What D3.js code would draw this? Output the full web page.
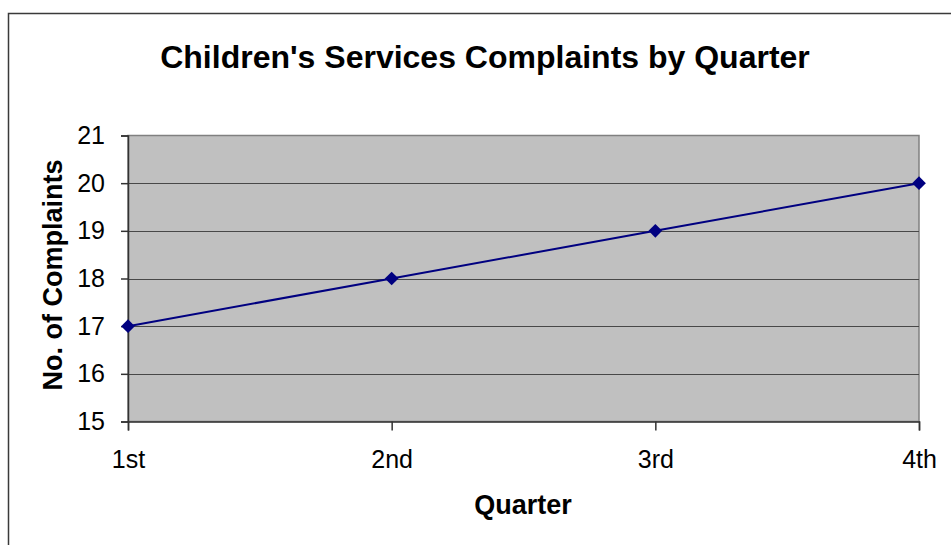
<!DOCTYPE html>
<html>
<head>
<meta charset="utf-8">
<script src="https://cdn.jsdelivr.net/npm/d3@7"></script>
<style>
  html, body { margin: 0; padding: 0; background: #fff; }
  svg { display: block; font-family: "Liberation Sans", Arial, sans-serif; }
</style>
</head>
<body>
<svg id="chart" width="951" height="545"></svg>
<script>
// Complaints per quarter
const quarters = ["1st", "2nd", "3rd", "4th"];
const complaints = [17, 18, 19, 20];
const yTicks = [15, 16, 17, 18, 19, 20, 21];

const W = 951, H = 545;
const plot = { left: 128, right: 919, top: 135.5, bottom: 421.5 };

const svg = d3.select("#chart");

// Chart frame
svg.append("rect")
  .attr("x", 8.5).attr("y", 13.5)
  .attr("width", W + 10).attr("height", H + 10)
  .attr("fill", "#fff").attr("stroke", "#3a3a3a").attr("stroke-width", 1.5);

const x = d3.scalePoint().domain(quarters).range([plot.left, plot.right]).padding(0);
const y = d3.scaleLinear().domain([15, 21]).range([plot.bottom, plot.top]);

// Plot area
svg.append("rect")
  .attr("x", plot.left).attr("y", plot.top)
  .attr("width", plot.right - plot.left).attr("height", plot.bottom - plot.top)
  .attr("fill", "#c0c0c0").attr("stroke", "#808080").attr("stroke-width", 1.5);

// Horizontal gridlines
svg.append("g")
  .selectAll("line")
  .data(yTicks.slice(1, -1))
  .join("line")
  .attr("x1", plot.left).attr("x2", plot.right)
  .attr("y1", d => Math.round(y(d)) + 0.5).attr("y2", d => Math.round(y(d)) + 0.5)
  .attr("stroke", "#484848").attr("stroke-width", 1);

// Y axis
const yAxis = svg.append("g")
  .attr("transform", `translate(${plot.left},0)`)
  .call(d3.axisLeft(y).tickValues(yTicks).tickFormat(d3.format("d")).tickSize(7).tickPadding(16));
yAxis.select(".domain").attr("stroke", "#333").attr("stroke-width", 1.5);
yAxis.selectAll(".tick line").attr("stroke", "#333").attr("stroke-width", 1.5);
yAxis.selectAll("text").attr("font-size", 25).attr("fill", "#000")
  .attr("font-family", "Liberation Sans, Arial, sans-serif");

// X axis
const xAxis = svg.append("g")
  .attr("transform", `translate(0,${plot.bottom})`)
  .call(d3.axisBottom(x).tickSize(9).tickPadding(20));
xAxis.select(".domain").attr("stroke", "#333").attr("stroke-width", 1.5);
xAxis.selectAll(".tick line").attr("stroke", "#333").attr("stroke-width", 1.5);
xAxis.selectAll("text").attr("font-size", 25).attr("fill", "#000")
  .attr("font-family", "Liberation Sans, Arial, sans-serif");

// Series line
const line = d3.line().x((d, i) => x(quarters[i])).y(d => y(d));
svg.append("path")
  .datum(complaints)
  .attr("d", line)
  .attr("fill", "none").attr("stroke", "#000080").attr("stroke-width", 2);

// Diamond markers
const diamond = d3.symbol().type(d3.symbolDiamond2).size(120);
svg.append("g")
  .selectAll("path")
  .data(complaints)
  .join("path")
  .attr("d", diamond)
  .attr("transform", (d, i) => `translate(${x(quarters[i])},${y(d)})`)
  .attr("fill", "#000080");

// Titles
svg.append("text")
  .attr("x", 485).attr("y", 68)
  .attr("text-anchor", "middle")
  .attr("font-size", 32).attr("font-weight", "bold")
  .text("Children's Services Complaints by Quarter");

svg.append("text")
  .attr("x", 523).attr("y", 514)
  .attr("text-anchor", "middle")
  .attr("font-size", 27).attr("font-weight", "bold")
  .text("Quarter");

svg.append("text")
  .attr("transform", "translate(62,275) rotate(-90)")
  .attr("text-anchor", "middle")
  .attr("font-size", 27).attr("font-weight", "bold")
  .text("No. of Complaints");
</script>
</body>
</html>
